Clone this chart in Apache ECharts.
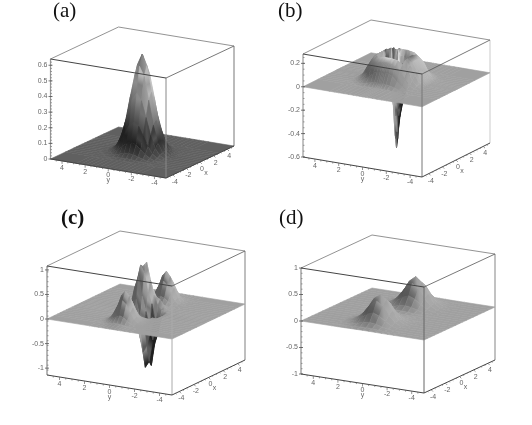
<!DOCTYPE html>
<html>
<head>
<meta charset="utf-8">
<style>
  html, body { margin: 0; background: #fff; }
  #chart { width: 532px; height: 425px; }
</style>
<script src="https://cdn.jsdelivr.net/npm/echarts@6/dist/echarts.min.js"></script>
</head>
<body>
<div id="chart"></div>
<script>
// surface heights, one row per y value
const zero17 = [0,0,0,0,0,0,0,0,0,0,0,0,0,0,0,0,0]
const aX = [-5,-2.8,-2.4,-2,-1.6,-1.2,-.8,-.4,0,.4,.8,1.2,1.6,2,2.4,2.8,5]
const aY = [-5,-2.8,-2.4,-2,-1.6,-1.2,-.8,-.4,0,.4,.8,1.2,1.6,2,2.4,2.8,5]
const a0 = [0,.002,.01,.035,.098,.22,.395,.56,.63,.56,.395,.22,.098,.035,.01,.002,0]
const a1 = [0,.002,.009,.031,.088,.197,.353,.5,.56,.5,.353,.197,.088,.031,.009,.002,0]
const a2 = [0,.001,.006,.022,.062,.14,.25,.353,.395,.353,.25,.14,.062,.022,.006,.001,0]
const a3 = [0,.001,.003,.012,.035,.078,.14,.197,.22,.197,.14,.078,.035,.012,.003,.001,0]
const a4 = [0,0,.001,.005,.015,.035,.062,.088,.098,.088,.062,.035,.015,.005,.001,0,0]
const a5 = [0,0,0,.002,.005,.012,.022,.031,.035,.031,.022,.012,.005,.002,0,0,0]
const a6 = [0,0,0,0,.001,.003,.006,.009,.01,.009,.006,.003,.001,0,0,0,0]
const a7 = [0,0,0,0,0,.001,.001,.002,.002,.002,.001,.001,0,0,0,0,0]
const aZ = [zero17,a7,a6,a5,a4,a3,a2,a1,a0,a1,a2,a3,a4,a5,a6,a7,zero17]

const bX = [-5,-2.8,-2.4,-2,-1.6,-1.2,-.8,-.5,-.25,-.1,0,.1,.25,.5,.8,1.2,1.6,2,2.4,2.8,5]
const bY = [-5,-2.8,-2.4,-2,-1.6,-1.2,-.8,-.5,-.25,-.1,0,.1,.25,.5,.8,1.2,1.6,2,2.4,2.8,5]
const bFar = [0,0,0,0,0,0,0,0,0,0,0,0,0,0,0,0,0,0,0,0,0]
const b28 = [0,0,0,0,0,.002,.003,.004,.005,.005,.005,.005,.005,.004,.003,.002,0,0,0,0,0]
const b24 = [0,0,0,.002,.008,.02,.03,.036,.04,.04,.04,.04,.04,.036,.03,.02,.008,.002,0,0,0]
const b20 = [0,0,.002,.008,.03,.06,.1,.115,.12,.12,.12,.12,.12,.115,.1,.06,.03,.008,.002,0,0]
const b16 = [0,0,.008,.03,.08,.14,.17,.185,.19,.19,.19,.19,.19,.185,.17,.14,.08,.03,.008,0,0]
const b12 = [0,.002,.02,.06,.14,.18,.21,.215,.22,.22,.22,.22,.22,.215,.21,.18,.14,.06,.02,.002,0]
const bZ = [
  bFar, b28, b24, b20, b16, b12,
  [0,.005,.03,.1,.17,.21,.12,.02,-.04,-.06,-.06,-.05,-.03,.03,.14,.21,.17,.1,.03,.005,0],
  [0,.005,.036,.115,.185,.215,.05,-.12,-.16,-.18,-.18,-.17,-.14,-.06,.1,.215,.185,.115,.036,.005,0],
  [0,.005,.04,.12,.19,.22,-.02,-.15,-.24,-.3,-.32,-.3,-.22,-.1,.08,.22,.19,.12,.04,.005,0],
  [0,.005,.04,.12,.19,.22,-.04,-.16,-.3,-.44,-.5,-.42,-.2,-.05,.12,.22,.19,.12,.04,.005,0],
  [0,.005,.04,.12,.19,.22,-.03,-.15,-.3,-.5,-.58,-.48,-.18,.08,.18,.22,.19,.12,.04,.005,0],
  [0,.005,.04,.12,.19,.22,0,-.1,-.22,-.4,-.48,-.3,.05,.24,.16,.22,.19,.12,.04,.005,0],
  [0,.005,.04,.12,.19,.22,.05,-.04,-.14,-.15,-.1,.1,.25,.12,.24,.22,.19,.12,.04,.005,0],
  [0,.005,.036,.115,.185,.215,.1,.04,.1,.25,.1,.26,.12,.25,.15,.215,.185,.115,.036,.005,0],
  [0,.005,.03,.1,.17,.21,.16,.24,.12,.25,.14,.24,.13,.23,.2,.21,.17,.1,.03,.005,0],
  b12, b16, b20, b24, b28, bFar
]

const cX = [-5,-4,-3.6,-3.2,-2.8,-2.4,-2,-1.6,-1.2,-.9,-.6,-.3,0,.3,.6,.9,1.2,1.6,2,2.4,2.8,3.2,3.6,4,5]
const cY = [-5,-1.6,-1.2,-.9,-.6,-.3,0,.3,.6,.9,1.2,1.6,5]
const cFar = [0,0,0,0,0,0,0,0,0,0,0,0,0,0,0,0,0,0,0,0,0,0,0,0,0]
const c16 = [0,0,.001,.003,.004,.003,.001,0,0,0,0,0,0,0,0,0,0,0,.001,.003,.004,.003,.001,0,0]
const cZ = [
  cFar, c16,
  [0,.002,.01,.025,.035,.025,.01,.002, 0,-.05,-.1,-.12,-.1,-.04,0,.02,.03, .002,.01,.025,.035,.025,.01,.002,0],
  [0,.007,.034,.089,.123,.089,.034,.007, -.1,-.3,-.5,-.55,-.45,-.2,.02,.08,.05, .007,.034,.089,.123,.089,.034,.007,0],
  [0,.017,.083,.22,.3,.22,.083,.017, -.2,-.6,-.95,-1.05,-.7,-.25,.1,.2,.08, .017,.083,.22,.3,.22,.083,.017,0],
  [0,.03,.14,.38,.52,.38,.14,.03, -.25,-.75,-1.08,-.75,-.3,.15,.3,.25,.08, .03,.14,.38,.52,.38,.14,.03,0],
  [0,.035,.17,.45,.62,.45,.17,.035, -.12,-.4,-.6,-.35,0,.35,.6,.4,.12, .035,.17,.45,.62,.45,.17,.035,0],
  [0,.03,.14,.38,.52,.38,.14,.03, -.08,-.25,-.3,-.15,.3,.75,.95,.7,.25, .03,.14,.38,.52,.38,.14,.03,0],
  [0,.017,.083,.22,.3,.22,.083,.017, -.08,-.2,-.1,.25,.7,.9,.85,.6,.2, .017,.083,.22,.3,.22,.083,.017,0],
  [0,.007,.034,.089,.123,.089,.034,.007, -.05,-.08,-.02,.2,.45,.55,.5,.3,.1, .007,.034,.089,.123,.089,.034,.007,0],
  [0,.002,.01,.025,.035,.025,.01,.002, -.03,-.02,0,.04,.1,.12,.1,.05,0, .002,.01,.025,.035,.025,.01,.002,0],
  c16, cFar
]

const dX = [-5,-4.5,-4,-3.5,-3,-2.5,-2,-1.5,-1,-.5,0,.5,1,1.5,2,2.5,3,3.5,4,4.5,5]
const dY = [-5,-2.5,-2,-1.5,-1,-.5,0,.5,1,1.5,2,2.5,5]
const dFar = [0,0,0,0,0,0,0,0,0,0,0,0,0,0,0,0,0,0,0,0,0]
const d0 = [.004,.023,.09,.24,.43,.52,.43,.24,.09,.023,.008,.024,.095,.25,.45,.55,.45,.25,.095,.024,.004]
const d1 = [.003,.019,.074,.195,.35,.43,.35,.195,.074,.019,.006,.02,.078,.205,.37,.45,.37,.205,.078,.02,.003]
const d2 = [.002,.01,.041,.11,.195,.24,.195,.11,.041,.01,.004,.011,.043,.115,.205,.25,.205,.115,.043,.011,.002]
const d3 = [0,.004,.015,.041,.074,.09,.074,.041,.015,.004,0,.004,.016,.043,.078,.095,.078,.043,.016,.004,0]
const d4 = [0,0,.004,.01,.019,.023,.019,.01,.004,0,0,0,.004,.011,.02,.024,.02,.011,.004,0,0]
const d5 = [0,0,0,.002,.003,.004,.003,.002,0,0,0,0,0,.002,.003,.004,.003,.002,0,0,0]
const dZ = [dFar,d5,d4,d3,d2,d1,d0,d1,d2,d3,d4,d5,dFar]

// tick labels
const xyTicks = [-4,-2,0,2,4]
const aZTicks = [0,.1,.2,.3,.4,.5,.6]
const bZTicks = [-.6,-.4,-.2,0,.2]
const cZTicks = [-1,-.5,0,.5,1]
const dZTicks = [-1,-.5,0,.5,1]

// where each box sits on the page, and how it is shaded
const panels = [
  { name: '(a)', xs: aX, ys: aY, zs: aZ, zTicks: aZTicks, zMin: 0, zMax: .64, zMinor: .02,
    front: [166,178], ex: [68,-32], ey: [-115.5,-19], height: 100,
    tones: [[0,96],[.03,70],[.1,34],[.2,95],[.35,150],[.5,185],[.6,110],[.64,80]], up: .35, down: .45, limit: 45,
    sideL: '#999', sideF: '#888', sideR: '#bbb', widthR: 2, widthL: 1.2, label: [53,1], weight: 'normal' },
  { name: '(b)', xs: bX, ys: bY, zs: bZ, zTicks: bZTicks, zMin: -.6, zMax: .28, zMinor: .05,
    front: [422,177], ex: [68,-34], ey: [-119,-20], height: 103,
    tones: [[-.6,70],[-.2,90],[-.02,150],[0,160],[.1,150],[.225,180],[.25,70]], up: 1.2, down: 2, limit: 70,
    sideL: '#999', sideF: '#777', sideR: '#ddd', widthR: 1.5, widthL: 1.2, label: [278,1], weight: 'normal' },
  { name: '(c)', xs: cX, ys: cY, zs: cZ, zTicks: cZTicks, zMin: -1.14, zMax: 1.08, zMinor: .1,
    front: [172,395], ex: [73,-35], ey: [-125,-20], height: 109,
    tones: [[-1.1,60],[-.5,75],[-.25,130],[0,160],[.6,155],[1.1,205]], up: .7, down: 2.6, limit: 65,
    sideL: '#888', sideF: '#aaa', sideR: '#aaa', widthR: 1.5, widthL: 1.2, label: [61,208], weight: 'bold' },
  { name: '(d)', xs: dX, ys: dY, zs: dZ, zTicks: dZTicks, zMin: -1, zMax: 1, zMinor: .1,
    front: [424,393], ex: [71,-33], ey: [-123,-19], height: 106,
    tones: [[0,160],[.6,160]], up: .7, down: 3.5, limit: 75,
    sideL: '#bbb', sideF: '#666', sideR: '#999', widthR: 1.2, widthL: 2, label: [279,208], weight: 'normal' }
]

function project(p, x, y, z) {
  const i = (x + 5) / 10
  const j = (y + 5) / 10
  const k = (z - p.zMin) / (p.zMax - p.zMin)
  return [
    p.front[0] + p.ex[0] * i + p.ey[0] * j,
    p.front[1] + p.ex[1] * i + p.ey[1] * j - p.height * k
  ]
}

function toneAt(tones, z) {
  if (z <= tones[0][0]) return tones[0][1]
  for (let i = 1; i < tones.length; i++) {
    if (z <= tones[i][0]) {
      const t = (z - tones[i - 1][0]) / (tones[i][0] - tones[i - 1][0])
      return tones[i - 1][1] + t * (tones[i][1] - tones[i - 1][1])
    }
  }
  return tones[tones.length - 1][1]
}

// gray level at a grid node, from its height and the slope around it
function nodeGray(p, xi, yi) {
  const { xs, ys, zs } = p
  const x0 = Math.max(xi - 1, 0), x1 = Math.min(xi + 1, xs.length - 1)
  const y0 = Math.max(yi - 1, 0), y1 = Math.min(yi + 1, ys.length - 1)
  const scale = p.height / (p.zMax - p.zMin)
  const sx = ((zs[yi][x1] - zs[yi][x0]) / (xs[x1] - xs[x0])) * scale
  const sy = ((zs[y1][xi] - zs[y0][xi]) / (ys[y1] - ys[y0])) * scale
  const light = sy - sx
  const delta = Math.max(-p.limit, Math.min(p.limit, (light > 0 ? p.up : p.down) * light))
  return Math.max(30, Math.min(238, toneAt(p.tones, zs[yi][xi]) + delta))
}

const grayCss = g => `rgb(${Math.round(g)},${Math.round(g)},${Math.round(g)})`

function surfaceSeries(p) {
  // back to front: far corner is x = 5, y = 5
  const cells = []
  for (let xi = p.xs.length - 2; xi >= 0; xi--) {
    for (let yi = p.ys.length - 2; yi >= 0; yi--) {
      cells.push([xi, yi])
    }
  }
  return {
    type: 'custom',
    coordinateSystem: 'cartesian2d',
    clip: false,
    silent: true,
    progressive: 0,
    z: 3,
    data: cells,
    renderItem(params, api) {
      const xi = api.value(0)
      const yi = api.value(1)
      const corner = (a, b) => api.coord(project(p, p.xs[a], p.ys[b], p.zs[b][a]))
      const near = corner(xi, yi)
      const right = corner(xi + 1, yi)
      const far = corner(xi + 1, yi + 1)
      const left = corner(xi, yi + 1)
      // shade across the cell from its left corner to its right corner
      const gl = nodeGray(p, xi, yi + 1)
      const gr = nodeGray(p, xi + 1, yi)
      const gm = (nodeGray(p, xi, yi) + nodeGray(p, xi + 1, yi + 1)) / 2
      const fill = {
        type: 'linear', global: true,
        x: left[0], y: left[1], x2: right[0], y2: right[1],
        colorStops: [
          { offset: 0, color: grayCss(gl) },
          { offset: .5, color: grayCss(gm) },
          { offset: 1, color: grayCss(gr) }
        ]
      }
      return {
        type: 'polygon',
        shape: { points: [near, right, far, left] },
        style: { fill, stroke: fill, lineWidth: 0.6 }
      }
    }
  }
}

function edgeSeries(edges, z) {
  return {
    type: 'custom',
    coordinateSystem: 'cartesian2d',
    clip: false,
    silent: true,
    z,
    data: edges.map((e, i) => [i, 0]),
    renderItem(params, api) {
      const e = edges[api.value(0)]
      const a = api.coord(e.from)
      const b = api.coord(e.to)
      return {
        type: 'line',
        shape: { x1: a[0], y1: a[1], x2: b[0], y2: b[1] },
        style: { stroke: e.color, lineWidth: e.width }
      }
    }
  }
}

function textSeries(labels) {
  return {
    type: 'custom',
    coordinateSystem: 'cartesian2d',
    clip: false,
    silent: true,
    z: 6,
    data: labels.map((l, i) => [i, 0]),
    renderItem(params, api) {
      const l = labels[api.value(0)]
      const pos = api.coord(l.at)
      return {
        type: 'text',
        style: {
          x: pos[0], y: pos[1], text: l.text, fill: '#666',
          font: '7px "Liberation Sans"',
          textAlign: l.align || 'center', textVerticalAlign: 'middle'
        }
      }
    }
  }
}

function panelSeries(p) {
  const lo = p.zMin
  const hi = p.zMax
  const L0 = project(p, -5, 5, lo), L1 = project(p, -5, 5, hi)
  const F0 = project(p, -5, -5, lo), F1 = project(p, -5, -5, hi)
  const R0 = project(p, 5, -5, lo), R1 = project(p, 5, -5, hi)
  const B1 = project(p, 5, 5, hi)

  const back = [
    { from: L1, to: B1, color: '#777', width: 0.8 },
    { from: R1, to: B1, color: '#777', width: 0.8 },
    { from: L0, to: L1, color: p.sideL, width: p.widthL },
    { from: R0, to: R1, color: p.sideR, width: p.widthR }
  ]
  const front = [
    { from: F0, to: F1, color: p.sideF, width: 1 },
    { from: L1, to: F1, color: '#444', width: 1 },
    { from: F1, to: R1, color: '#555', width: 0.8 },
    { from: L0, to: F0, color: '#444', width: 1 },
    { from: F0, to: R0, color: '#444', width: 1 }
  ]
  const labels = []

  // minor and major ticks on the y and x floor edges
  for (let t = -4.5; t <= 4.5; t += .5) {
    const major = xyTicks.includes(t)
    const a = project(p, -5, t, lo)
    const c = project(p, t, -5, lo)
    const len = major ? 3 : 1.5
    front.push({ from: a, to: [a[0], a[1] + len], color: '#666', width: 0.7 })
    front.push({ from: c, to: [c[0] + len * .6, c[1] + len * .6], color: '#666', width: 0.7 })
    if (major) {
      labels.push({ at: [a[0], a[1] + 7], text: String(t) })
      labels.push({ at: [c[0] + 2, c[1] + 7], text: String(t) })
    }
  }
  const yMid = project(p, -5, 0, lo)
  const xMid = project(p, 0, -5, lo)
  labels.push({ at: [yMid[0], yMid[1] + 12], text: 'y' })
  labels.push({ at: [xMid[0] + 6, xMid[1] + 11], text: 'x' })

  // height axis on the left corner
  for (let t = p.zMin; t <= p.zMax + 1e-6; t += p.zMinor) {
    const m = project(p, -5, 5, t)
    front.push({ from: m, to: [m[0] + 1.5, m[1]], color: '#777', width: 0.7 })
  }
  p.zTicks.forEach(t => {
    const m = project(p, -5, 5, t)
    front.push({ from: [m[0] - 2, m[1]], to: [m[0] + 2, m[1]], color: '#555', width: 0.8 })
    labels.push({ at: [m[0] - 3, m[1]], text: String(t), align: 'right' })
  })

  return [edgeSeries(back, 2), surfaceSeries(p), edgeSeries(front, 5), textSeries(labels)]
}

const chart = echarts.init(document.getElementById('chart'), null, { renderer: 'canvas' })
chart.setOption({
  animation: false,
  backgroundColor: '#fff',
  tooltip: { show: false },
  title: panels.map(p => ({
    text: p.name,
    left: p.label[0],
    top: p.label[1],
    padding: 0,
    textStyle: { fontFamily: 'Liberation Serif', fontSize: 21, fontWeight: p.weight, color: '#111' }
  })),
  grid: { left: 0, right: 0, top: 0, bottom: 0 },
  xAxis: { type: 'value', min: 0, max: 532, show: false },
  yAxis: { type: 'value', min: 0, max: 425, inverse: true, show: false },
  series: panels.flatMap(panelSeries)
})
</script>
</body>
</html>
